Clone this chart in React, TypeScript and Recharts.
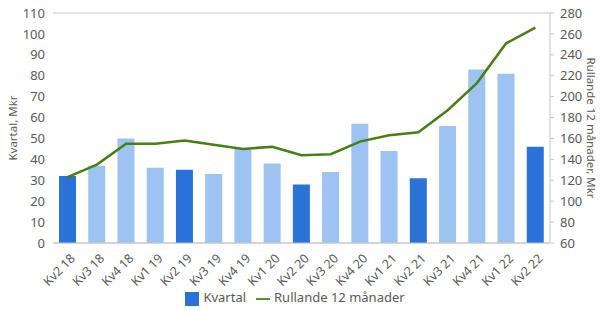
import { ComposedChart, Bar, Line, XAxis, YAxis, CartesianGrid, Legend, Cell } from 'recharts'

const quarters = ['Kv2 18', 'Kv3 18', 'Kv4 18', 'Kv1 19', 'Kv2 19', 'Kv3 19', 'Kv4 19', 'Kv1 20', 'Kv2 20', 'Kv3 20', 'Kv4 20', 'Kv1 21', 'Kv2 21', 'Kv3 21', 'Kv4 21', 'Kv1 22', 'Kv2 22']
const kvartal = [32, 37, 50, 36, 35, 33, 45, 38, 28, 34, 57, 44, 31, 56, 83, 81, 46]
const rullande = [123, 135, 155, 155, 158, 154, 150, 152, 144, 145, 157, 163, 166, 187, 213, 251, 266]
const leftTicks = [0, 10, 20, 30, 40, 50, 60, 70, 80, 90, 100, 110]
const rightTicks = [60, 80, 100, 120, 140, 160, 180, 200, 220, 240, 260, 280]

const data = quarters.map((q, i) => ({ q, kvartal: kvartal[i], rullande: rullande[i] }))

const DARK = '#2a72d8'
const LIGHT = '#9dc3f2'
const GREEN = '#4b7d17'
const TEXT = '#595959'
const font = '"Noto Sans", sans-serif'

export default function App() {
    return (
        <div style={{ position: 'absolute', left: 0, top: 0, width: 600, height: 310, background: '#fff', fontFamily: font }}>
            <ComposedChart width={600} height={310} data={data} margin={{ top: 13, right: 0, left: 0, bottom: 0 }}>
                <CartesianGrid vertical={false} stroke="#c6c6c6" />
                <XAxis
                    dataKey="q"
                    interval={0}
                    height={45}
                    axisLine={{ stroke: '#c6c6c6' }}
                    tickLine={false}
                    tick={{ fill: TEXT, fontSize: 12.5, angle: -45, textAnchor: 'end', dx: 2, dy: 2 }}
                />
                <YAxis
                    yAxisId="left"
                    domain={[0, 110]}
                    ticks={leftTicks}
                    interval={0}
                    width={53}
                    axisLine={false}
                    tickLine={false}
                    tick={{ fill: TEXT, fontSize: 13 }}
                    label={{ value: 'Kvartal, Mkr', angle: -90, position: 'center', dx: -14, fill: TEXT, fontSize: 11.5 }}
                />
                <YAxis
                    yAxisId="right"
                    orientation="right"
                    domain={[60, 280]}
                    ticks={rightTicks}
                    interval={0}
                    width={50}
                    axisLine={{ stroke: '#c6c6c6' }}
                    tickLine={{ stroke: '#c6c6c6' }}
                    tickSize={4}
                    tick={{ fill: TEXT, fontSize: 13, dx: 4 }}
                    label={{ value: 'Rullande 12 månader, Mkr', angle: 90, position: 'center', dx: 16, fill: TEXT, fontSize: 11.5 }}
                />
                <Legend
                    verticalAlign="bottom"
                    align="center"
                    height={22}
                    iconSize={14}
                    wrapperStyle={{ fontSize: 13, color: TEXT }}
                    formatter={(value) => <span style={{ color: TEXT }}>{value}</span>}
                />
                <Bar yAxisId="left" dataKey="kvartal" name="Kvartal" fill={DARK} barSize={17} legendType="square" isAnimationActive={false}>
                    {quarters.map((q) => (
                        <Cell key={q} fill={q.startsWith('Kv2') ? DARK : LIGHT} />
                    ))}
                </Bar>
                <Line yAxisId="right" dataKey="rullande" name="Rullande 12 månader" stroke={GREEN} strokeWidth={2.5} dot={false} legendType="plainline" isAnimationActive={false} />
            </ComposedChart>
        </div>
    )
}
